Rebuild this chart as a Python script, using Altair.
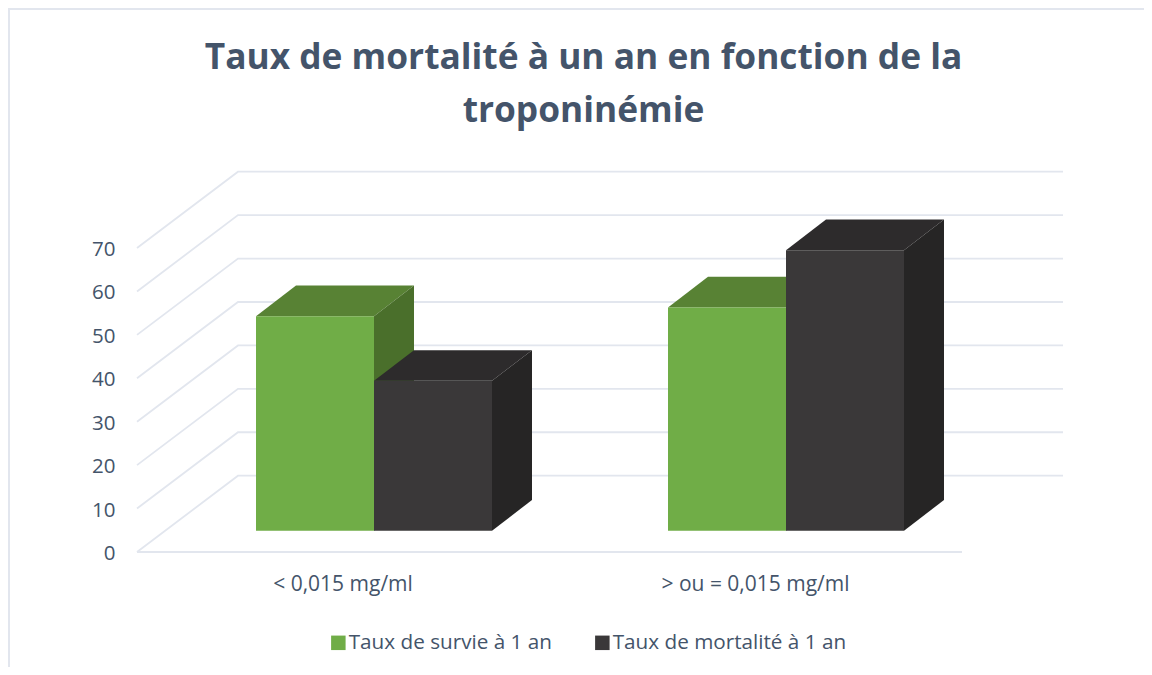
import altair as alt
import pandas as pd

TITLE = ["Taux de mortalité à un an en fonction de la", "troponinémie"]
CATEGORIES = ["< 0,015 mg/ml", "> ou =  0,015 mg/ml"]
SERIES = ["Taux de survie à 1 an", "Taux de mortalité à 1 an"]
SURVIE = [49.4, 51.4]
MORTALITE = [34.5, 64.6]
TICKS = [0, 10, 20, 30, 40, 50, 60, 70]

FONT = "Open Sans"
TEXT = "#44546a"
GRID = "#e2e6ee"
FRONT = ["#70ad47", "#3a3839"]
TOPS = ["#588234", "#2d2b2c"]
SIDES = ["#4a6f2b", "#262525"]

W, H = 1136, 659
PPU = 304 / 70            # pixels per value unit
Y0 = 552                  # page pixel row of value 0 on the front edge
y_domain = [(Y0 - (8 + H)) / PPU, (Y0 - 8) / PPU]
x_scale = alt.Scale(domain=[8, 8 + W], nice=False, zero=False)
y_scale = alt.Scale(domain=y_domain, nice=False, zero=False)
y_axis = alt.Axis(
    values=TICKS, title=None, domain=False, ticks=False, grid=False, offset=-107,
    labelPadding=0, labelFont=FONT, labelFontSize=20.5, labelColor=TEXT, labelOffset=1.5, orient="left")

# oblique projection
WALL_DX, WALL_DY = 101, 76.3 / PPU
FLOOR_BASE = 21.3 / PPU
BAR_DX, BAR_DY = 40, 30.7 / PPU
BAR_W = 118
CAT_LEFT = [256, 668]
CAT_CENTER = [343, 755.5]
LABEL_Y = -7.6
GRID_LEFT, GRID_FRONT_RIGHT, GRID_BACK_RIGHT = 137, 962, 1063

grid_rows = []
for t in TICKS:
    grid_rows += [
        {"g": t, "x": GRID_LEFT, "y": t},
        {"g": t, "x": GRID_LEFT + WALL_DX, "y": t + WALL_DY},
        {"g": t, "x": GRID_BACK_RIGHT, "y": t + WALL_DY},
    ]
grid_rows += [{"g": -1, "x": GRID_LEFT, "y": 0}, {"g": -1, "x": GRID_FRONT_RIGHT, "y": 0}]
grid = alt.Chart(pd.DataFrame(grid_rows)).mark_line(color=GRID, strokeWidth=1.8).encode(
    x=alt.X("x:Q", scale=x_scale, axis=None),
    y=alt.Y("y:Q", scale=y_scale, axis=y_axis),
    detail="g:N",
)

frame_top = alt.Chart(pd.DataFrame({"a": [0]})).mark_rule(color=GRID, strokeWidth=2).encode(
    x=alt.value(0), x2=alt.value(W), y=alt.value(1))
frame_left = alt.Chart(pd.DataFrame({"a": [0]})).mark_rule(color=GRID, strokeWidth=2).encode(
    x=alt.value(1), y=alt.value(0), y2=alt.value(H))

layers = [frame_top, frame_left, grid]
for j, (name, vals) in enumerate(zip(SERIES, [SURVIE, MORTALITE])):
    top_rows, side_rows, front_rows = [], [], []
    for i, v in enumerate(vals):
        x0 = CAT_LEFT[i] + j * BAR_W
        x1 = x0 + BAR_W
        t = FLOOR_BASE + v
        b = FLOOR_BASE
        top_rows += [
            {"g": i, "x": x0, "y": t, "y2": t},
            {"g": i, "x": x0 + BAR_DX, "y": t + BAR_DY, "y2": t},
            {"g": i, "x": x1, "y": t + BAR_DY, "y2": t},
            {"g": i, "x": x1 + BAR_DX, "y": t + BAR_DY, "y2": t + BAR_DY},
        ]
        side_rows += [
            {"g": i, "x": x1, "y": t, "y2": b},
            {"g": i, "x": x1 + BAR_DX, "y": t + BAR_DY, "y2": b + BAR_DY},
        ]
        front_rows.append({"serie": name, "x": x0, "x2": x1, "y": t, "y2": b})
    for rows, col in ((top_rows, TOPS[j]), (side_rows, SIDES[j])):
        layers.append(
            alt.Chart(pd.DataFrame(rows)).mark_area(color=col, interpolate="linear").encode(
                x=alt.X("x:Q", scale=x_scale, axis=None),
                y=alt.Y("y:Q", scale=y_scale, axis=y_axis, stack=None),
                y2="y2:Q",
                detail="g:N",
            )
        )
    layers.append(
        alt.Chart(pd.DataFrame(front_rows)).mark_rect().encode(
            x=alt.X("x:Q", scale=x_scale, axis=None),
            x2="x2:Q",
            y=alt.Y("y:Q", scale=y_scale, axis=y_axis),
            y2="y2:Q",
            color=alt.Color("serie:N", scale=alt.Scale(domain=SERIES, range=FRONT), legend=alt.Legend(
                title=None, orient="none", legendX=320, legendY=624, direction="horizontal", columns=2,
                symbolType="square", symbolSize=210, symbolStrokeWidth=0, labelFont=FONT,
                labelFontSize=20.7, labelColor=TEXT, labelOffset=0, labelLimit=400, columnPadding=40, padding=0)),
        )
    )

cat_df = pd.DataFrame({"label": CATEGORIES, "x": CAT_CENTER, "y": [LABEL_Y] * 2})
layers.append(
    alt.Chart(cat_df).mark_text(font=FONT, fontSize=21, color=TEXT, align="center", baseline="middle").encode(
        x=alt.X("x:Q", scale=x_scale, axis=None),
        y=alt.Y("y:Q", scale=y_scale, axis=y_axis),
        text="label:N",
    )
)

chart = alt.layer(*layers).properties(
    width=W, height=H, padding=0, autosize=alt.AutoSizeParams(type="none"),
    title=alt.TitleParams(text=TITLE, font=FONT, fontSize=35.3, fontWeight="bold", color=TEXT,
                          anchor="middle", frame="group", dx=7.5, offset=-122, baseline="top", lineHeight=53),
).configure_view(stroke=None)

chart.save("out.html", embed_options={"renderer": "svg", "actions": False})
